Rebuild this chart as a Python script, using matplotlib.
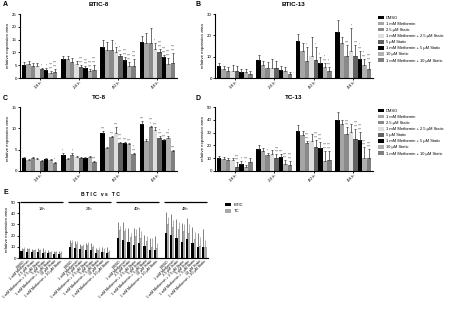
import matplotlib
matplotlib.use("Agg")
import matplotlib.pyplot as plt
import numpy as np
from matplotlib.patches import Patch

plt.rcParams['font.family'] = ['Liberation Sans', 'DejaVu Sans']

W, H = 450, 323
DPI = 100

times = ["18 h", "24 h", "40 h", "48 h"]
treatments = ["DMSO", "1 mM Metformin", "2.5 \u00b5M Static",
              "1 mM Metformin + 2.5 \u00b5M Static", "5 \u00b5M Static",
              "1 mM Metformin + 5 \u00b5M Static", "10 \u00b5M Static",
              "1 mM Metformin + 10 \u00b5M Static"]
colors = ["#000000", "#a6a6a6", "#8a8a8a", "#dedede", "#626262",
          "#000000", "#b0b0b0", "#808080"]

# ---- Panel A: BTIC-8 (rows = time points, cols = treatments)
A_mean = [[5.2, 5.3, 4.5, 4.5, 3.5, 3.3, 2.0, 2.2],
          [7.5, 7.4, 6.3, 5.4, 4.4, 4.0, 2.7, 3.2],
          [12.3, 11.0, 10.8, 10.0, 8.5, 7.2, 4.8, 4.6],
          [14.2, 13.5, 13.8, 11.5, 10.0, 8.2, 5.3, 5.8]]
A_err = [[1.0, 1.2, 1.5, 1.2, 0.5, 0.6, 0.8, 1.3],
         [1.0, 1.2, 1.5, 1.3, 0.6, 0.5, 0.8, 1.8],
         [2.5, 3.0, 4.0, 2.0, 1.0, 1.0, 1.5, 3.0],
         [2.2, 4.0, 5.8, 2.0, 1.5, 0.8, 2.5, 4.0]]
A_sig = [["", "", "", "", "*", "*", "****\n****", "****\n****"],
         ["", "", "", "", "****\n****", "****\n****", "****\n****", "****\n****"],
         ["", "", "", "*", "**\n****", "****\n****", "****\n****", "****\n****"],
         ["", "", "", "**", "****\n****", "****\n****", "****\n****", "****\n****"]]

# ---- Panel B: BTIC-13
B_mean = [[5.5, 4.0, 3.3, 3.3, 3.5, 2.9, 2.8, 2.0],
          [8.5, 6.0, 4.6, 4.5, 4.5, 3.6, 3.2, 2.0],
          [17.3, 12.5, 8.0, 10.5, 8.3, 7.0, 5.0, 3.2],
          [21.5, 16.3, 10.5, 12.5, 10.5, 8.8, 6.0, 4.2]]
B_err = [[1.5, 1.8, 2.0, 2.8, 2.3, 1.3, 1.5, 1.2],
         [2.5, 2.0, 3.0, 4.2, 3.5, 2.0, 2.0, 1.0],
         [3.5, 4.0, 6.5, 8.5, 6.0, 3.0, 2.0, 2.0],
         [5.5, 3.0, 5.0, 11.0, 5.0, 4.0, 3.0, 3.5]]
B_sig = [["", "", "", "", "", "", "", ""],
         ["", "", "", "", "", "", "", ""],
         ["", "", "**", "", "**", "**", "*\n****", "**\n****"],
         ["", "", "****", "*", "****", "*\n****", "**\n****", "****\n****"]]

# ---- Panel C: TC-8
C_mean = [[3.0, 2.6, 3.1, 2.9, 2.4, 2.8, 2.6, 1.9],
          [3.8, 2.7, 3.8, 3.3, 3.0, 3.1, 3.3, 2.2],
          [8.8, 5.5, 8.0, 8.8, 6.5, 6.5, 6.3, 4.0],
          [11.0, 7.1, 10.2, 9.6, 7.8, 7.2, 7.8, 4.7]]
C_err = [[0.2, 0.15, 0.2, 0.2, 0.2, 0.3, 0.15, 0.2],
         [0.4, 0.3, 0.4, 0.3, 0.2, 0.2, 0.2, 0.2],
         [0.6, 0.2, 0.3, 1.4, 0.4, 0.3, 0.3, 0.3],
         [0.7, 0.3, 0.3, 0.6, 0.3, 0.3, 0.3, 0.3]]
C_sig = [["", "", "", "", "", "", "", "**"],
         ["**", "", "*", "", "", "", "", "****"],
         ["****", "", "****", "****", "****\n****", "****", "****", "**\n****"],
         ["****", "", "****\n**", "****", "*\n****", "****", "*\n****", "****"]]

# ---- Panel D: TC-13
D_mean = [[10.5, 9.5, 8.5, 8.5, 3.5, 5.8, 3.5, 7.0],
          [17.0, 15.5, 12.3, 13.3, 10.5, 11.0, 5.3, 5.0],
          [31.0, 28.5, 21.5, 23.5, 18.5, 18.0, 8.0, 8.5],
          [40.0, 36.5, 29.0, 30.5, 25.0, 24.5, 10.5, 10.0]]
D_err = [[1.5, 1.8, 1.5, 2.0, 3.2, 2.3, 1.5, 3.5],
         [3.0, 2.5, 1.5, 3.0, 2.5, 2.5, 3.0, 3.0],
         [5.0, 3.0, 2.0, 5.5, 6.0, 5.0, 8.0, 7.0],
         [6.0, 3.0, 5.0, 6.0, 8.0, 6.0, 8.0, 7.0]]
D_sig = [["", "", "", "", "****\n****", "*", "****\n**", ""],
         ["", "", "*", "", "****\n****", "****", "****\n****", "****\n****"],
         ["", "", "****\n****", "", "****\n****", "****\n****", "****\n****", "****\n****"],
         ["", "", "****\n****", "", "****\n****", "****\n****", "****\n****", "****\n****"]]

# ---- Panel E: BTIC vs TC
E_groups = ["18h", "24h", "40h", "48h"]
E_btic = [[6.2, 5.8, 5.2, 5.0, 4.7, 4.4, 3.7, 3.4],
          [9.8, 9.0, 7.8, 6.8, 7.0, 4.5, 5.0, 4.5],
          [18.0, 16.5, 14.0, 12.0, 13.5, 10.5, 7.5, 7.5],
          [22.0, 20.5, 18.0, 14.0, 17.0, 13.5, 9.5, 9.5]]
E_btic_err = [[3.0, 3.5, 3.0, 3.5, 4.0, 2.5, 2.5, 2.5],
              [6.5, 6.5, 5.0, 7.0, 6.5, 4.0, 4.5, 5.5],
              [14.0, 16.0, 13.0, 15.0, 14.0, 10.0, 10.0, 12.0],
              [19.0, 19.0, 17.0, 17.0, 19.0, 14.0, 13.0, 16.0]]
E_tc = [[8.0, 7.6, 6.8, 6.8, 5.8, 5.4, 5.2, 4.6],
        [13.5, 12.5, 10.5, 11.5, 9.5, 7.5, 5.5, 5.0],
        [25.0, 24.0, 19.0, 20.0, 18.0, 15.0, 10.0, 8.5],
        [30.0, 28.0, 26.0, 24.0, 22.0, 17.0, 11.0, 10.0]]
E_tc_err = [[1.5, 1.5, 1.5, 1.5, 1.5, 1.2, 1.2, 1.5],
            [2.5, 2.5, 2.0, 2.5, 2.0, 2.0, 3.0, 2.0],
            [4.0, 3.0, 3.0, 6.0, 6.0, 5.0, 8.0, 5.0],
            [7.0, 6.0, 6.0, 6.0, 8.0, 6.0, 8.0, 6.0]]

fig = plt.figure(figsize=(W / DPI, H / DPI), dpi=DPI)
fig.patch.set_facecolor("white")


def ax_px(x0, x1, ytop, ybot):
    return fig.add_axes([x0 / W, 1 - ybot / H, (x1 - x0) / W, (ybot - ytop) / H])


def style(ax, ymax, step):
    for s in ["top", "right"]:
        ax.spines[s].set_visible(False)
    for s in ["left", "bottom"]:
        ax.spines[s].set_linewidth(0.8)
    ax.set_ylim(0, ymax)
    ax.set_yticks(np.arange(0, ymax + 0.01, step))
    ax.tick_params(axis="y", labelsize=3.2, length=1.5, width=0.6, pad=0.8)
    ax.tick_params(axis="x", length=1.5, width=0.6, pad=0.8)
    ax.set_ylabel("relative expansion area", fontsize=3.2, labelpad=1.5)


def grouped(ax, mean, err, sig, ymax, step, title):
    n = len(treatments)
    bw = 0.9 / n
    mean = np.array(mean)
    err = np.array(err)
    for j in range(n):
        xs = np.arange(len(times)) - 0.45 + bw * (j + 0.5)
        ax.bar(xs, mean[:, j], width=bw, color=colors[j], edgecolor="none")
        ax.errorbar(xs, mean[:, j], yerr=[np.zeros(len(times)), err[:, j]],
                    fmt="none", ecolor="#333333", elinewidth=0.5, capsize=0.8,
                    capthick=0.5)
        for i in range(len(times)):
            s = sig[i][j]
            if s:
                ax.text(xs[i], mean[i, j] + err[i, j] + ymax * 0.005, s,
                        ha="center", va="bottom", fontsize=1.8,
                        linespacing=0.9, color="#333333")
    ax.set_xlim(-0.5, len(times) - 0.5)
    ax.set_xticks(np.arange(len(times)))
    ax.set_xticklabels(times, rotation=45, ha="right", rotation_mode="anchor",
                       fontsize=3.2)
    style(ax, ymax, step)
    ax.set_title(title, fontsize=4.5, fontweight="bold", pad=6)


axA = ax_px(20, 177, 14, 78)
grouped(axA, A_mean, A_err, A_sig, 25, 5, "BTIC-8")
axB = ax_px(215, 373, 14, 78)
grouped(axB, B_mean, B_err, B_sig, 30, 10, "BTIC-13")
axC = ax_px(20, 177, 107, 171)
grouped(axC, C_mean, C_err, C_sig, 15, 5, "TC-8")
axD = ax_px(215, 373, 107, 171)
grouped(axD, D_mean, D_err, D_sig, 50, 10, "TC-13")

for lab, x, y in [("A", 3, 5), ("B", 196, 5), ("C", 3, 99), ("D", 196, 99),
                  ("E", 3, 193)]:
    fig.text(x / W, 1 - y / H, lab, fontsize=5, fontweight="bold",
             va="center", ha="left")

handles = [Patch(facecolor=c, edgecolor="none") for c in colors]
for ax in (axB, axD):
    ax.legend(handles, treatments, loc="upper left", bbox_to_anchor=(1.02, 1.0),
              fontsize=2.9, frameon=False, handlelength=1.45, handleheight=1.0,
              labelspacing=0.48, handletextpad=0.55, borderaxespad=0)

# ---- Panel E
axE = ax_px(19, 208, 202, 258)
nc = len(treatments)
bwE = 0.42
ticks, labels = [], []
for g in range(len(E_groups)):
    base = g * (nc + 1)
    xs = base + np.arange(nc)
    axE.bar(xs - bwE / 2, E_btic[g], width=bwE, color="#000000", edgecolor="none")
    axE.bar(xs + bwE / 2, E_tc[g], width=bwE, color="#a8a8a8", edgecolor="none")
    axE.errorbar(xs - bwE / 2, E_btic[g], yerr=[np.zeros(nc), E_btic_err[g]],
                 fmt="none", ecolor="#222222", elinewidth=0.4, capsize=0)
    axE.errorbar(xs + bwE / 2, E_tc[g], yerr=[np.zeros(nc), E_tc_err[g]],
                 fmt="none", ecolor="#777777", elinewidth=0.4, capsize=0)
    axE.plot([xs[0] - 0.5, xs[-1] + 0.5], [50.3, 50.3], color="black", lw=0.9,
             clip_on=False, solid_capstyle="butt")
    axE.text((xs[0] + xs[-1]) / 2, 44, E_groups[g], ha="center", va="center",
             fontsize=2.8)
    ticks.extend(xs)
    labels.extend(treatments)
axE.set_xlim(-0.7, len(E_groups) * (nc + 1) - 1.3)
axE.set_xticks(ticks)
axE.set_xticklabels(labels, rotation=45, ha="right", rotation_mode="anchor",
                    fontsize=2.6)
style(axE, 50, 10)
axE.tick_params(axis="x", length=0)
fig.text(100 / W, 1 - 195 / H, "B T I C   v s   T C", fontsize=3.6,
         fontweight="bold", ha="center", va="center")
axE.legend([Patch(facecolor="#000000"), Patch(facecolor="#a8a8a8")],
           ["BTIC", "TC"], loc="upper left", bbox_to_anchor=(1.08, 1.02),
           fontsize=3.0, frameon=False, handlelength=1.6, handleheight=0.9,
           labelspacing=0.6, handletextpad=0.6, borderaxespad=0)

fig.savefig("out.png", dpi=DPI, facecolor="white")
